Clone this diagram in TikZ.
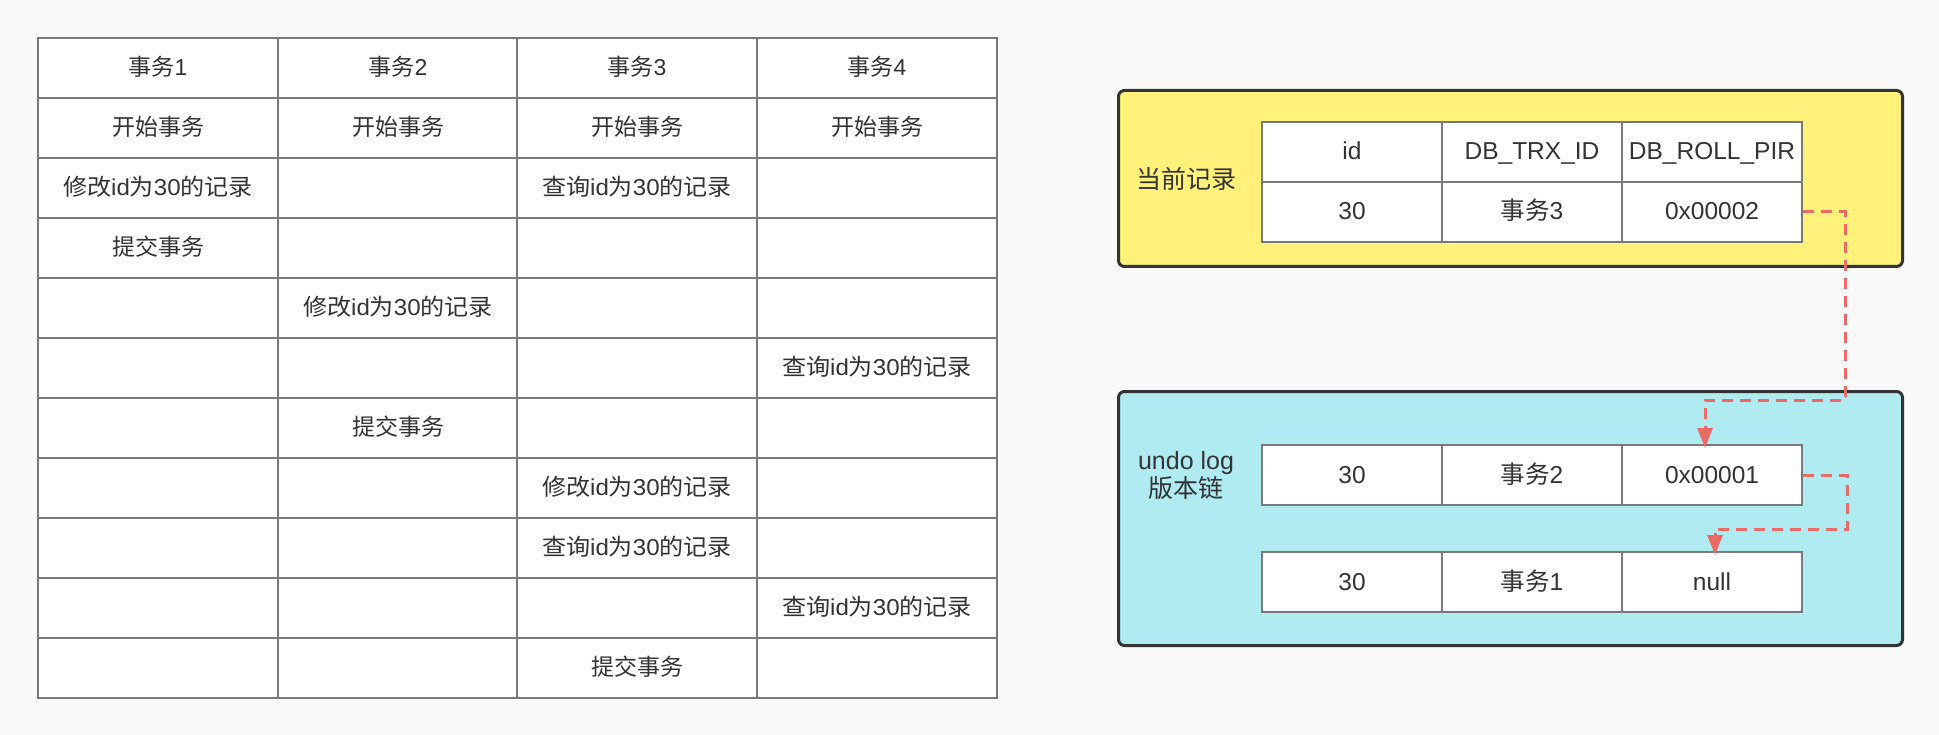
\documentclass[tikz,border=0pt]{standalone}
\usepackage{graphicx}
\usepackage{fontspec}
\setmainfont{Liberation Sans}
\newfontfamily\cjk{Noto Sans CJK SC}
\usetikzlibrary{arrows.meta,calc}
\definecolor{bg}{HTML}{F9F9F9}
\definecolor{grid}{HTML}{7A7A7A}
\definecolor{txt}{HTML}{333333}
\definecolor{ybox}{HTML}{FFF17A}
\definecolor{bbox}{HTML}{B1EBF2}
\definecolor{frame}{HTML}{333333}
\definecolor{link}{HTML}{EA6B66}
\newcommand\C[1]{{\cjk #1}}
\newcommand\fitw[1]{\resizebox{190pt}{\height}{#1}}
\newcommand\modrec{\fitw{\C{修改}id\C{为}30\C{的记录}}}
\newcommand\qryrec{\fitw{\C{查询}id\C{为}30\C{的记录}}}
\newcommand\beginT{\C{开始事务}}
\newcommand\commitT{\C{提交事务}}
\newcommand\tx[1]{\C{事务}#1}
\tikzset{
  tcell/.style={draw=grid, line width=2pt, fill=white, minimum width=240pt, minimum height=60pt,
    inner sep=0pt, anchor=north west, text=txt, text height=19.8pt, text depth=4.2pt,
    font=\fontsize{23pt}{26pt}\selectfont},
  rcell/.style={draw=grid, line width=2pt, fill=white, minimum width=180pt, minimum height=60pt,
    inner sep=0pt, anchor=north west, text=txt, text height=20.5pt, text depth=4.5pt,
    font=\fontsize{24.5pt}{26pt}\selectfont},
  panel/.style={draw=frame, line width=3pt, rounded corners=6pt, anchor=north west,
    minimum width=784pt, inner sep=0pt},
  plabel/.style={text=txt, font=\fontsize{25pt}{30pt}\selectfont, align=center},
  link/.style={draw=link, line width=3pt, dash pattern=on 11pt off 7pt,
    -{Triangle[length=20pt,width=15pt]}}
}
\begin{document}
\begin{tikzpicture}[x=1pt,y=-1pt]
\fill[bg] (0,0) rectangle (1939,735);
\useasboundingbox (0,0) rectangle (1939,735);
% ---------- left table ----------
\foreach \r/\a/\b/\c/\d in {
  0/\tx1/\tx2/\tx3/\tx4,
  1/\beginT/\beginT/\beginT/\beginT,
  2/\modrec//\qryrec/,
  3/\commitT///,
  4//\modrec//,
  5////\qryrec,
  6//\commitT//,
  7///\modrec/,
  8///\qryrec/,
  9////\qryrec,
  10///\commitT/}{
  \node[tcell] (t\r-1) at (37,{37+60*\r}) {\a};
  \node[tcell] (t\r-2) at (277,{37+60*\r}) {\b};
  \node[tcell] (t\r-3) at (516,{37+60*\r}) {\c};
  \node[tcell] (t\r-4) at (756,{37+60*\r}) {\d};
}
% ---------- current record panel ----------
\node[panel, fill=ybox, minimum height=176pt] (cur) at (1117,89) {};
\node[plabel] (curlab) at (1186,179) {\C{当前记录}};
\node[rcell] (a11) at (1261,121) {id};
\node[rcell] (a12) at (1441,121) {DB\_TRX\_ID};
\node[rcell] (a13) at (1621,121) {DB\_ROLL\_PIR};
\node[rcell] (a21) at (1261,181) {30};
\node[rcell] (a22) at (1441,181) {\tx3};
\node[rcell] (a23) at (1621,181) {0x00002};
% ---------- undo log panel ----------
\node[panel, fill=bbox, minimum height=254pt] (undo) at (1117,390) {};
\node[plabel] (undolab) at (1186,476) {undo log\\[-2pt]\C{版本链}};
\node[rcell] (u11) at (1261,444) {30};
\node[rcell] (u12) at (1441,444) {\tx2};
\node[rcell] (u13) at (1621,444) {0x00001};
\node[rcell] (v11) at (1261,551) {30};
\node[rcell] (v12) at (1441,551) {\tx1};
\node[rcell] (v13) at (1621,551) {null};
% ---------- links ----------
\coordinate (k1) at (1845,400);
\coordinate (k2) at (1847,529);
\coordinate (h1) at (1705,448);
\coordinate (h2) at (1715,555);
\draw[link] (a23.east) -| (k1) -| (h1);
\draw[link] (u13.east) -| (k2) -| (h2);
\end{tikzpicture}
\end{document}
